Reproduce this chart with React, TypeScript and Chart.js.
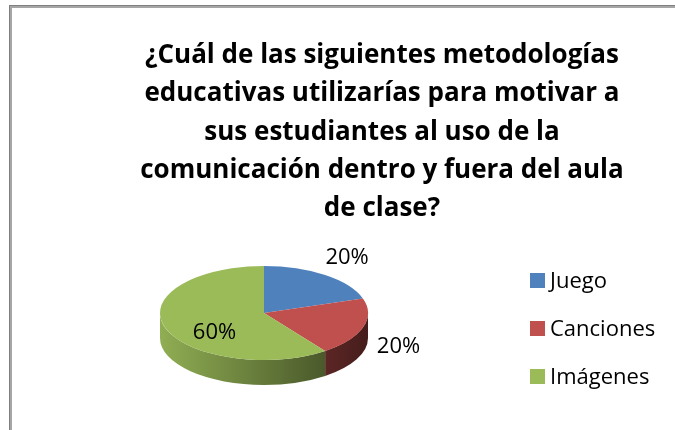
import React, { useEffect, useRef } from "react";
import { Chart, registerables } from "chart.js";

Chart.register(...registerables);

// ---- data ----
const titleLines = [
  "¿Cuál de las siguientes metodologías",
  "educativas utilizarías para motivar a",
  "sus estudiantes al uso de la",
  "comunicación dentro y fuera del aula",
  "de clase?",
];
const categories = ["Juego", "Canciones", "Imágenes"];
const values = [20, 20, 60];
const sliceColors = ["#4F81BD", "#C0504D", "#9BBB59"];

// ---- style constants ----
const FONT = "'Open Sans', Lato, sans-serif";
const TILT = 0.452; // vertical squash of the pie (ellipse ry / rx)
const DEPTH = 25; // thickness of the 3D side

function shade(hex: string, f: number) {
  const n = parseInt(hex.slice(1), 16);
  const r = Math.round(((n >> 16) & 255) * f);
  const g = Math.round(((n >> 8) & 255) * f);
  const b = Math.round((n & 255) * f);
  return `rgb(${r},${g},${b})`;
}

const decorPlugin = {
  id: "decor",
  beforeDraw(chart: any) {
    const ctx = chart.ctx as CanvasRenderingContext2D;
    ctx.save();
    // frame
    ctx.fillStyle = "#a6a6a6";
    ctx.fillRect(9, 5, 3, 430);
    ctx.fillRect(9, 5, 670, 3);
    ctx.fillStyle = "#7f7f7f";
    ctx.fillRect(9, 5, 1, 430);
    ctx.fillRect(9, 5, 670, 1);
    // title
    ctx.fillStyle = "#000";
    ctx.font = `bold 26px ${FONT}`;
    ctx.textAlign = "center";
    ctx.textBaseline = "alphabetic";
    titleLines.forEach((line, i) => {
      ctx.fillText(line, 382, 63 + i * 38.3);
    });
    // legend
    ctx.font = `22px ${FONT}`;
    ctx.textAlign = "left";
    categories.forEach((cat, i) => {
      const base = 288 + i * 48;
      ctx.fillStyle = sliceColors[i];
      ctx.fillRect(530, base - 15, 15, 15);
      ctx.fillStyle = "#000";
      ctx.fillText(cat, 550, base);
    });
    ctx.restore();
  },
};

let transformed = false;

const pie3dPlugin = {
  id: "pie3d",
  beforeDatasetsDraw(chart: any) {
    const ctx = chart.ctx as CanvasRenderingContext2D;
    const arcs = chart.getDatasetMeta(0).data as any[];
    if (!arcs.length) return;
    const { x: cx, y: cy, outerRadius: rx } = arcs[0];
    const ry = rx * TILT;
    // front side walls
    arcs.forEach((arc: any, i: number) => {
      const a = Math.max(arc.startAngle, 0);
      const b = Math.min(arc.endAngle, Math.PI);
      if (b <= a) return;
      const grad = ctx.createLinearGradient(cx - rx, 0, cx + rx, 0);
      grad.addColorStop(0, shade(sliceColors[i], 0.93));
      grad.addColorStop(1, shade(sliceColors[i], 0.36));
      ctx.beginPath();
      ctx.ellipse(cx, cy, rx, ry, 0, a, b);
      ctx.ellipse(cx, cy + DEPTH, rx, ry, 0, b, a, true);
      ctx.closePath();
      ctx.fillStyle = grad;
      ctx.fill();
    });
    ctx.save();
    ctx.translate(cx, cy);
    ctx.scale(1, TILT);
    ctx.translate(-cx, -cy);
    transformed = true;
  },
  afterDatasetsDraw(chart: any) {
    const ctx = chart.ctx as CanvasRenderingContext2D;
    if (transformed) {
      ctx.restore();
      transformed = false;
    }
    const arcs = chart.getDatasetMeta(0).data as any[];
    if (!arcs.length) return;
    const total = values.reduce((s, v) => s + v, 0);
    ctx.save();
    ctx.font = `22px ${FONT}`;
    ctx.fillStyle = "#000";
    ctx.textAlign = "center";
    ctx.textBaseline = "alphabetic";
    arcs.forEach((arc: any, i: number) => {
      const { x: cx, y: cy, outerRadius: rx } = arc;
      const ry = rx * TILT;
      const mid = (arc.startAngle + arc.endAngle) / 2;
      const frac = values[i] / total;
      const inside = frac > 0.3;
      const fx = inside ? 0.5 : 1.36;
      const fy = inside ? 0.5 : 1.5;
      const c = Math.cos(mid);
      const s = Math.sin(mid);
      const x = cx + fx * rx * c;
      const y = cy + fy * ry * s + (s > 0 ? DEPTH * 0.42 : 0);
      const txt = Math.round(frac * 100) + "%";
      ctx.fillText(txt, x, y + 8);
    });
    ctx.restore();
  },
};

export default function App() {
  const ref = useRef<HTMLCanvasElement | null>(null);
  useEffect(() => {
    if (!ref.current) return;
    const chart = new Chart(ref.current, {
      type: "pie",
      data: {
        labels: categories,
        datasets: [
          {
            data: values,
            backgroundColor: sliceColors,
            borderWidth: 0,
            clip: false,
          } as any,
        ],
      },
      options: {
        responsive: false,
        animation: false,
        events: [],
        layout: { padding: { left: 160, right: 307, top: 209, bottom: 13 } },
        plugins: {
          legend: { display: false },
          title: { display: false },
          tooltip: { enabled: false },
        },
      },
      plugins: [decorPlugin, pie3dPlugin],
    });
    return () => chart.destroy();
  }, []);
  return (
    <div style={{ position: "absolute", left: 0, top: 0, width: 675, height: 430, background: "#fff" }}>
      <canvas ref={ref} width={675} height={430} style={{ display: "block" }} />
    </div>
  );
}
